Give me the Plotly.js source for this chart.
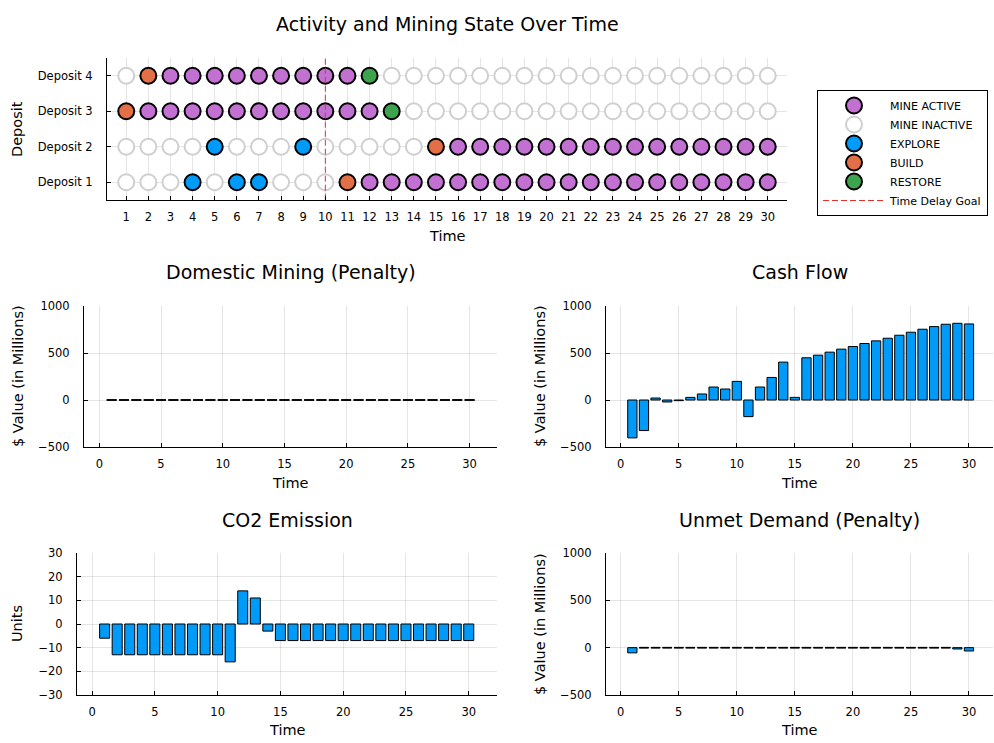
<!DOCTYPE html>
<html>
<head>
<meta charset="utf-8">
<script src="https://cdn.plot.ly/plotly-3.0.1.min.js"></script>
<style>html,body{margin:0;padding:0;background:#fff;}#chart{width:994px;height:743px;}</style>
</head>
<body>
<div id="chart"></div>
<script>
// ---------- DATA ----------
const time = [1,2,3,4,5,6,7,8,9,10,11,12,13,14,15,16,17,18,19,20,21,22,23,24,25,26,27,28,29,30];
const depositLabels = ["Deposit 1","Deposit 2","Deposit 3","Deposit 4"];
// state codes: A = mine active, I = mine inactive, E = explore, B = build, R = restore
const deposit1States = "IIIEIEEIIIBAAAAAAAAAAAAAAAAAAA".split("");
const deposit2States = "IIIIEIIIEIIIIIBAAAAAAAAAAAAAAA".split("");
const deposit3States = "BAAAAAAAAAAARIIIIIIIIIIIIIIIII".split("");
const deposit4States = "IBAAAAAAAAARIIIIIIIIIIIIIIIIII".split("");
const stateCodes = ["A","I","E","B","R"];
const stateNames = ["MINE ACTIVE","MINE INACTIVE","EXPLORE","BUILD","RESTORE"];
const timeDelayGoal = 10;

const domesticMining = [0,0,0,0,0,0,0,0,0,0,0,0,0,0,0,0,0,0,0,0,0,0,0,0,0,0,0,0,0,0];
const cashFlow = [-403,-325,21,-21,-7,28,64,138,117,198,-177,138,240,403,28,449,477,509,541,569,601,629,657,689,721,753,781,806,816,809];
const co2Emission = [-6,-13,-13,-13,-13,-13,-13,-13,-13,-13,-16,14,11,-3,-7,-7,-7,-7,-7,-7,-7,-7,-7,-7,-7,-7,-7,-7,-7,-7];
const unmetDemand = [-55,0,0,0,0,0,0,0,0,0,0,0,0,0,0,0,0,0,0,0,0,0,0,0,0,0,0,0,-14,-35];

// ---------- STYLE ----------
const FONT = "DejaVu Sans, Liberation Sans, sans-serif";
const stateStyles = {
  A: {color:"#c271d2", line:{color:"#000000", width:2}},
  I: {color:"#ffffff", line:{color:"#cfcfcf", width:2}},
  E: {color:"#009af9", line:{color:"#000000", width:2}},
  B: {color:"#e26f46", line:{color:"#000000", width:2}},
  R: {color:"#3da44d", line:{color:"#000000", width:2}}
};
const W = 994, H = 743;
const px = v => v / W;
const py = v => 1 - v / H;

const traces = [];
const allDeposits = [deposit1States, deposit2States, deposit3States, deposit4States];
stateCodes.forEach((code, si) => {
  const xs = [], ys = [];
  allDeposits.forEach((states, di) => {
    states.forEach((s, ti) => { if (s === code) { xs.push(time[ti]); ys.push(di + 1); } });
  });
  traces.push({
    type:"scatter", mode:"markers", x:xs, y:ys, xaxis:"x", yaxis:"y",
    name:stateNames[si], showlegend:true, legendrank: si + 1,
    marker:{symbol:"circle", size:16, color:stateStyles[code].color, line:stateStyles[code].line},
    hoverinfo:"x+y+name"
  });
});
traces.push({
  type:"scatter", mode:"lines", x:[timeDelayGoal, timeDelayGoal], y:[0, depositLabels.length + 1],
  xaxis:"x", yaxis:"y", name:"Time Delay Goal", showlegend:true, legendrank: 6,
  line:{color:"#e8302a", width:1, dash:"6px,3px"}
});

function barTraces(values, xa, ya) {
  const out = [{
    type:"bar", x:time, y:values, xaxis:xa, yaxis:ya, width:0.8, showlegend:false,
    marker:{color:"#009af9", line:{color:"#000000", width:1}}
  }];
  const sx = [], sy = [];
  values.forEach((v, i) => { if (v === 0) { sx.push(time[i] - 0.4, time[i] + 0.4, null); sy.push(v, v, null); } });
  if (sx.length) out.push({
    type:"scatter", mode:"lines", x:sx, y:sy, xaxis:xa, yaxis:ya, showlegend:false,
    line:{color:"#000000", width:1.6}, hoverinfo:"skip"
  });
  return out;
}
traces.push(...barTraces(domesticMining, "x2", "y2"));
traces.push(...barTraces(cashFlow, "x3", "y3"));
traces.push(...barTraces(co2Emission, "x4", "y4"));
traces.push(...barTraces(unmetDemand, "x5", "y5"));

const tickFont = {family:FONT, size:11.5, color:"#000"};
function axBase(extra) {
  return Object.assign({
    showline:true, linecolor:"#000", linewidth:1, mirror:false,
    ticks:"inside", ticklen:4, tickcolor:"#000", tickwidth:1,
    showgrid:true, gridcolor:"rgba(0,0,0,0.1)", gridwidth:1,
    zeroline:false, tickfont:tickFont, fixedrange:true
  }, extra);
}
const xStand = 6, yStand = 11;

const bx = [-1.24, 32.22];
const layout = {
  width:W, height:H, margin:{l:0,r:0,t:0,b:0},
  paper_bgcolor:"#fff", plot_bgcolor:"#fff",
  font:{family:FONT, color:"#000"},
  showlegend:true, bargap:0,
  legend:{x:px(817), y:py(153), xanchor:"left", yanchor:"middle",
    bordercolor:"#000", borderwidth:1, bgcolor:"#fff", itemwidth:62,
    font:{family:FONT, size:11, color:"#000"}, traceorder:"normal"},
  xaxis: axBase({domain:[px(107), px(787)], range:[0.13, 30.87], tickvals:time, anchor:"y", ticklabelstandoff:xStand}),
  yaxis: axBase({domain:[py(200), py(58)], range:[0.5, 4.5], tickvals:[1,2,3,4], ticktext:depositLabels, anchor:"x", ticklabelstandoff:yStand}),
  xaxis2: axBase({domain:[px(84), px(497)], range:bx, tickvals:[0,5,10,15,20,25,30], anchor:"y2", ticklabelstandoff:xStand}),
  yaxis2: axBase({domain:[py(447), py(306)], range:[-500, 1000], tickvals:[-500,0,500,1000], anchor:"x2", ticklabelstandoff:yStand}),
  xaxis3: axBase({domain:[px(606), px(993)], range:[-1.27, 32.07], tickvals:[0,5,10,15,20,25,30], anchor:"y3", ticklabelstandoff:xStand}),
  yaxis3: axBase({domain:[py(447), py(306)], range:[-500, 1000], tickvals:[-500,0,500,1000], anchor:"x3", ticklabelstandoff:yStand}),
  xaxis4: axBase({domain:[px(77), px(497)], range:[-1.2, 32.25], tickvals:[0,5,10,15,20,25,30], anchor:"y4", ticklabelstandoff:xStand}),
  yaxis4: axBase({domain:[py(695), py(553)], range:[-30, 30], tickvals:[-30,-20,-10,0,10,20,30], anchor:"x4", ticklabelstandoff:yStand}),
  xaxis5: axBase({domain:[px(606), px(993)], range:[-1.27, 32.07], tickvals:[0,5,10,15,20,25,30], anchor:"y5", ticklabelstandoff:xStand}),
  yaxis5: axBase({domain:[py(695), py(553)], range:[-500, 1000], tickvals:[-500,0,500,1000], anchor:"x5", ticklabelstandoff:yStand}),
  annotations: []
};

function ann(text, x, y, size, angle) {
  layout.annotations.push({text:text, x:px(x), y:py(y), xref:"paper", yref:"paper",
    xanchor:"center", yanchor:"middle", showarrow:false, textangle:angle || 0,
    font:{family:FONT, size:size, color:"#000"}});
}
ann("Activity and Mining State Over Time", 447, 24, 19);
ann("Domestic Mining (Penalty)", 290.5, 272, 19);
ann("Cash Flow", 799.5, 272, 19);
ann("CO2 Emission", 287, 520, 19);
ann("Unmet Demand (Penalty)", 799.5, 520, 19);
ann("Time", 447, 236, 14.5);
ann("Time", 290.5, 483, 14.5);
ann("Time", 799.5, 483, 14.5);
ann("Time", 287, 730, 14.5);
ann("Time", 799.5, 730, 14.5);
ann("Deposit", 17, 129, 14.5, -90);
ann("$ Value (in Millions)", 18, 376, 14.5, -90);
ann("$ Value (in Millions)", 540, 376, 14.5, -90);
ann("Units", 17, 624, 14.5, -90);
ann("$ Value (in Millions)", 540, 624, 14.5, -90);

Plotly.newPlot("chart", traces, layout, {staticPlot:true, displayModeBar:false});
</script>
</body>
</html>
